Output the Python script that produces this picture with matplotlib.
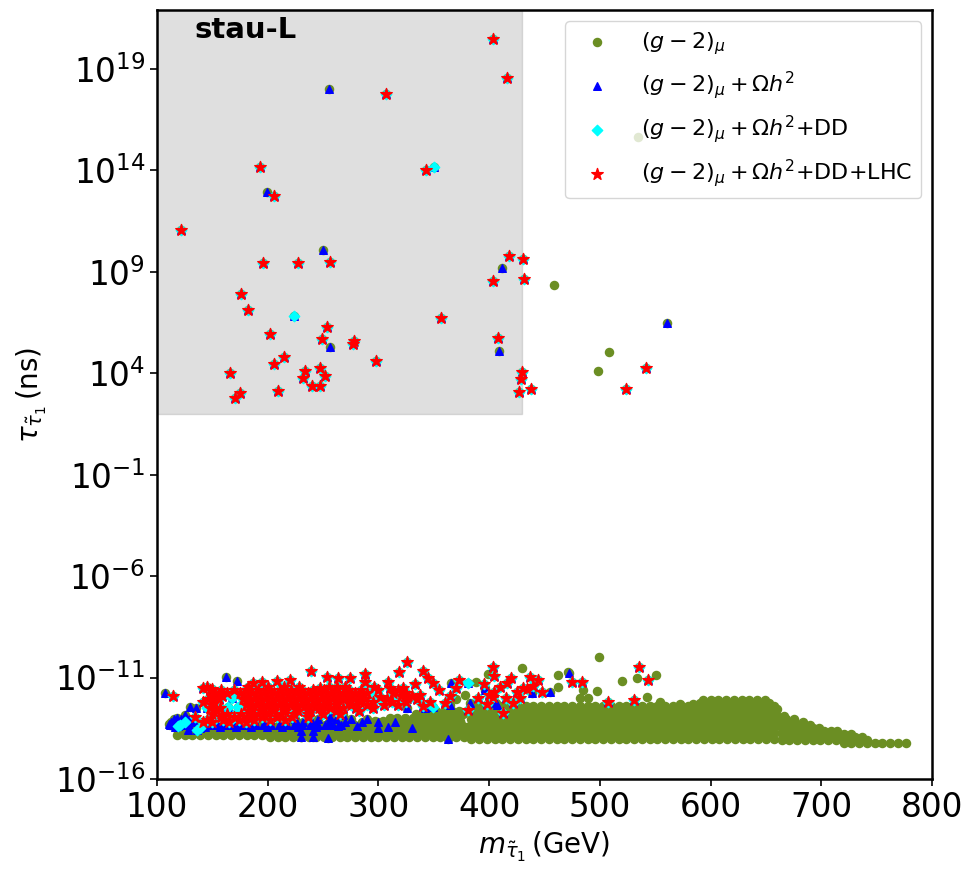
import matplotlib.pyplot as plt
from matplotlib.ticker import NullLocator

# isolated points: (stau mass in GeV, log10 of lifetime in ns)
# each set only holds the points whose highest passed constraint is that set
green_pts = [(534.5, 15.65), (458.6, 8.35), (508.3, 5.05), (498.3, 4.11),
             (499.3, -9.98), (429.7, -10.53), (471, -10.72), (388, -11.22),
             (550.7, -10.87), (533.6, -11.02), (520, -11.17), (497.4, -11.66),
             (462, -11.46), (370, -12.05), (378, -11.86), (542.6, -11.96),
             (482, -12.0), (489, -12.0), (399, -10.85), (462, -10.87),
             (484.8, -11.6), (554, -12.2), (572, -12.3), (584, -12.3)]

blue_pts = [(255.4, 18.0), (199.4, 12.94), (250, 10.08), (256.3, 5.3),
            (411.6, 9.19), (409, 5.1), (560.7, 6.48),
            (107.2, -11.76), (162.3, -10.97), (172.3, -11.17), (129.8, -12.45),
            (135.2, -12.5), (125.3, -12.84), (118, -13.0), (110.8, -13.29),
            (128, -13.58), (230, -13.63), (230, -13.93), (241, -13.63),
            (241, -13.93), (254.5, -13.98), (254.5, -13.29), (263.5, -13.39),
            (280.6, -13.39), (299.6, -13.48), (308.7, -13.44), (213.8, -13.19),
            (232, -13.19), (256, -12.94), (268, -12.84), (330.3, -13.48),
            (362.9, -14.03), (365.6, -11.27), (396, -11.51), (407, -12.35),
            (382.7, -12.25), (364.7, -12.35), (342, -12.5), (325.8, -12.5),
            (472, -10.77), (438.7, -11.76), (455, -11.71), (396.3, -11.6),
            (406, -12.25)]

cyan_pts = [(350.4, 14.17), (223.8, 6.82),
            (381, -11.27), (120.8, -13.34), (167.7, -12.0), (164, -12.45),
            (145, -12.5), (138.8, -13.48), (298.7, -11.9), (316.8, -12.0),
            (173, -12.45), (295, -11.76), (349, -12.45), (119, -13.39),
            (136, -13.58), (152.4, -12.84), (172.3, -12.7), (125, -13.2)]

red_pts = [(403.5, 20.48), (416, 18.56), (306.8, 17.77), (193, 14.17),
           (205.9, 12.74), (343, 14.02), (121.7, 11.07), (195.7, 9.44),
           (227.4, 9.44), (256.3, 9.49), (175.9, 7.91), (182.2, 7.12),
           (202, 5.94), (253.6, 6.28), (249, 5.69), (278, 5.59), (277, 5.44),
           (297.8, 4.61), (214.7, 4.8), (205.7, 4.46), (166, 4.0),
           (233.7, 4.11), (231.9, 3.77), (247.3, 4.26), (251.8, 3.87),
           (240, 3.37), (247.3, 3.37), (175, 3.03), (170.5, 2.78),
           (209.3, 3.13), (356.5, 6.73), (418, 9.78), (430.6, 9.63),
           (403.5, 8.55), (431.5, 8.65), (408, 5.74), (429.7, 4.06),
           (429, 3.72), (427, 3.08), (437.8, 3.23), (541.7, 4.26), (523.6, 3.23),
           (114.5, -11.9), (141.5, -11.5), (150, -11.55), (158.7, -11.9),
           (239, -10.68), (253.6, -10.97), (263.5, -11.02), (274.3, -11.02),
           (287.9, -10.85), (287.9, -11.22), (308.7, -11.2), (318.6, -10.75),
           (326, -10.25), (340.3, -10.68), (186.7, -11.27), (194.8, -11.22),
           (208.4, -11.17), (220.1, -11.12), (262.6, -11.46), (247.2, -11.51),
           (301.4, -11.96), (310.5, -11.51), (141.5, -13.19), (134.3, -12.94),
           (403.5, -10.5), (404.4, -10.9), (372.8, -11.1), (349.3, -11.27),
           (333, -11.3), (437, -10.97), (444, -11.12), (381, -12.6),
           (412.5, -12.74), (421.6, -12.25), (403.5, -11.96), (409.8, -11.46),
           (434, -11.55), (448, -11.71), (535.4, -10.48), (543.5, -11.12),
           (483.9, -11.22), (474.8, -11.22), (416, -11.27), (430.6, -11.51),
           (404.4, -11.71), (400, -11.86), (360, -12.25), (507.4, -12.2),
           (530.9, -12.12), (337.6, -11.86), (325.8, -12.0), (346.6, -12.2),
           (322, -11.51), (395, -11.3), (420, -11.0), (425, -11.7),
           (415, -12.0), (440, -11.4), (390, -12.0), (398, -12.3),
           (428, -12.0), (355, -11.6), (365, -11.9), (345, -11.0),
           (370, -11.5), (340, -12.4)]

# the dense band near 1e-13 ns, read as horizontal strips: (log10 tau, masses)
band_x_a = [384, 391, 398, 405, 412, 419, 426, 433, 440, 447, 454, 461, 468, 475,
            482, 489, 496, 503, 510, 517, 524, 531, 538, 545, 552, 559, 566, 573,
            580, 587, 594, 601, 608, 615, 622, 629, 636, 643, 650, 657]
band_x_b = [387, 394, 401, 408, 415, 422, 429, 436, 443, 450, 457, 464, 471, 478,
            485, 492, 499, 506, 513, 520, 527, 534, 541, 548, 555, 562, 569, 576,
            583, 590, 597, 604, 611, 618, 625, 632, 639, 646, 653]
mid_x_a = [202, 209, 216, 223, 230, 237, 244, 251, 258, 265, 272, 279, 286,
           293, 300, 307, 314, 321, 328, 335, 342, 349, 356, 363, 370, 377]
mid_x_b = [205, 212, 219, 226, 233, 240, 247, 254, 261, 268, 275, 282, 289,
           296, 303, 310, 317, 324, 331, 338, 345, 352, 359, 366, 373, 380]
low_x = [118, 125, 132, 139, 146, 153, 160, 167, 174, 181, 188, 195]

green_rows = [
    (-13.85, low_x),
    (-13.7, [121, 128, 135, 142, 149, 156, 163, 170, 177, 184, 191, 198]),
    (-13.55, low_x),
    (-13.95, mid_x_a),
    (-13.78, mid_x_b),
    (-13.62, mid_x_a),
    (-13.46, mid_x_b),
    (-13.3, [270, 277, 284, 291, 298, 305, 312, 319, 326, 333, 340, 347, 354,
             361, 368, 375]),
    (-13.13, [290, 297, 304, 311, 318, 325, 332, 339, 346, 353, 360, 367, 374]),
    (-12.97, [310, 317, 324, 331, 338, 345, 352, 359, 366, 373]),
    (-12.8, [334, 341, 348, 355, 362, 369, 376]),
    (-12.65, [345, 352, 359, 366, 373, 380]),
    (-14.02, band_x_a),
    (-13.85, band_x_b),
    (-13.69, band_x_a),
    (-13.52, band_x_b),
    (-13.36, band_x_a),
    (-13.2, band_x_b),
    (-13.03, band_x_a),
    (-12.87, band_x_b),
    (-12.70, band_x_a),
    (-12.55, band_x_b),
    (-12.40, band_x_a),
    (-12.26, [590, 597, 604, 611, 618, 625, 632, 639, 646, 653]),
    (-12.12, [593, 600, 607, 614, 621, 628, 635, 642, 649]),
    (-14.1, [664, 671, 678, 685, 692, 699, 706, 713, 720, 727, 734, 741]),
    (-14.22, [720, 727, 734, 741, 748, 755, 762, 769, 776]),
    (-13.95, [667, 674, 681, 688, 695, 702, 709, 716, 723, 730, 737]),
    (-13.8, [664, 671, 678, 685, 692, 699, 706, 713, 720, 727]),
    (-13.65, [667, 674, 681, 688, 695, 702, 709, 714]),
    (-13.5, [664, 671, 678, 685, 692, 698]),
    (-13.35, [662, 669, 676, 683, 690]),
    (-13.2, [662, 669, 676, 683]),
    (-13.05, [661, 668, 675]),
    (-12.88, [660, 666]),
    (-12.55, [660]),
]

blue_rows = [
    (-13.35, [112, 119, 126, 140, 147, 154, 161, 168, 175, 182, 189, 196, 203,
              210, 217, 224, 231, 238, 245, 252, 259, 266]),
    (-13.2, [113, 121, 133, 145, 158, 170, 185, 198, 212, 226, 240, 255, 270,
             285, 300, 315]),
    (-13.45, [116, 130, 143, 157, 171, 185, 199, 213, 227, 244]),
    (-13.05, [115, 122, 129, 150, 175, 200, 225, 245, 262, 275, 290]),
]

red_rows = [
    (-11.45, [145, 182, 200, 215, 228, 255, 270, 296]),
    (-11.6, [148, 158, 170, 180, 191, 201, 211, 221, 231, 241, 251, 262, 273,
             284, 300, 318]),
    (-11.75, [152, 163, 175, 186, 196, 206, 216, 226, 236, 246, 257, 268, 279,
              290, 313, 325]),
    (-11.9, [150, 181, 192, 202, 212, 222, 232, 242, 252, 263, 273, 283, 320,
             330]),
    (-12.05, [146, 156, 178, 188, 198, 208, 218, 228, 238, 248, 258, 268, 278,
              288, 308, 335]),
    (-12.2, [142, 151, 183, 193, 203, 213, 223, 233, 243, 253, 263, 273, 283,
             295, 312, 325]),
    (-12.35, [150, 180, 190, 200, 210, 220, 230, 240, 250, 262, 275, 290, 305,
              318]),
    (-12.5, [148, 157, 186, 196, 206, 216, 226, 236, 246, 256, 268, 280, 295]),
    (-12.65, [154, 183, 194, 205, 216, 227, 238, 249, 262, 282]),
    (-12.8, [150, 163, 176, 188, 200, 212, 224, 236, 250, 265]),
    (-12.95, [158, 170, 182, 195, 208, 222, 236]),
    (-13.08, [145, 160, 174, 188, 202, 216]),
    (-13.2, [150, 165, 180]),
]


def collect(pts, rows):
    xs = [p[0] for p in pts]
    ys = [10 ** p[1] for p in pts]
    for ly, row in rows:
        xs += list(row)
        ys += [10 ** ly] * len(row)
    return xs, ys


gx, gy = collect(green_pts, green_rows)
bx, by = collect(blue_pts, blue_rows)
cx, cy = collect(cyan_pts, [])
rx, ry = collect(red_pts, red_rows)

fig = plt.figure(figsize=(9.75, 8.74), dpi=100)
ax = fig.add_axes([0.161, 0.1087, 0.795, 0.8799])

ax.fill_between([100, 430], 1e2, 10 ** 21.9, color="gray", alpha=0.25, zorder=0)

# every set is a subset of the one before it
ax.scatter(gx + bx + cx + rx, gy + by + cy + ry, s=34, marker="o",
           color="olivedrab", label=r"$(g-2)_\mu$", zorder=2)
ax.scatter(bx + cx + rx, by + cy + ry, s=30, marker="^",
           color="blue", label=r"$(g-2)_\mu+\Omega h^2$", zorder=3)
ax.scatter(cx + rx, cy + ry, s=28, marker="D",
           color="cyan", label=r"$(g-2)_\mu+\Omega h^2$+DD", zorder=4)
ax.scatter(rx, ry, s=75, marker="*",
           color="red", label=r"$(g-2)_\mu+\Omega h^2$+DD+LHC", zorder=5)

ax.text(0.048, 0.992, "stau-L", transform=ax.transAxes, fontsize=21,
        fontweight="bold", va="top", ha="left", zorder=6)

ax.set_yscale("log")
ax.set_xlim(100, 800)
ax.set_ylim(1e-16, 10 ** 21.9)
ax.set_xticks([100, 200, 300, 400, 500, 600, 700, 800])
ax.set_yticks([1e-16, 1e-11, 1e-6, 1e-1, 1e4, 1e9, 1e14, 1e19])
ax.yaxis.set_minor_locator(NullLocator())
ax.tick_params(labelsize=23.5, width=1.2, length=5)
for sp in ax.spines.values():
    sp.set_linewidth(1.8)

ax.set_xlabel(r"$m_{\tilde{\tau}_1}\,$(GeV)", fontsize=20)
ax.set_ylabel(r"$\tau_{\tilde{\tau}_1}\,$(ns)", fontsize=20)

ax.legend(loc="upper right", fontsize=16, handletextpad=1.0,
          labelspacing=0.55)

fig.savefig("out.png", dpi=100)
